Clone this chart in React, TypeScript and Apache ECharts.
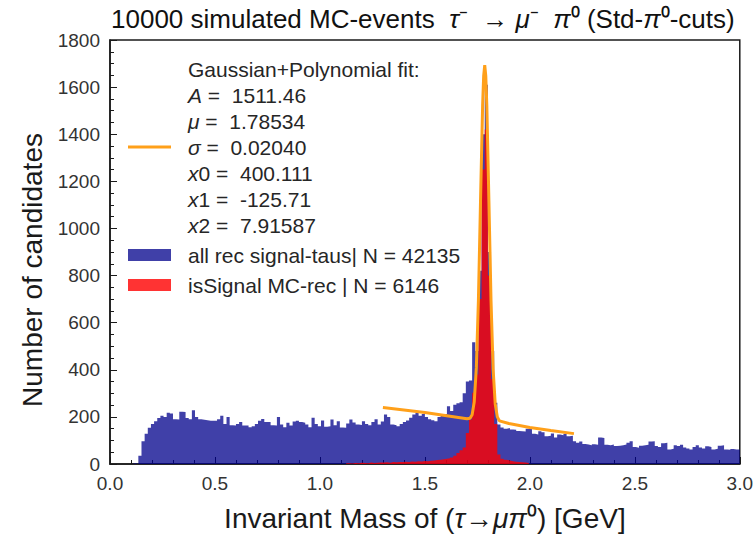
import React, { useEffect, useRef } from "react";
import * as echarts from "echarts";

// ---------- data ----------
const BIN_WIDTH = 0.015; // histogram bin width in GeV (200 bins on 0..3)

// all rec signal-taus, 200 bins starting at 0.0
const BLUE_COUNTS = [
  0, 0, 0, 0, 0, 0, 0, 3, 0, 35,
  97, 128, 154, 170, 182, 195, 205, 200, 218, 214,
  190, 189, 222, 221, 195, 190, 228, 200, 190, 188,
  186, 184, 184, 184, 190, 205, 170, 199, 165, 163,
  170, 178, 163, 163, 156, 160, 170, 184, 191, 178,
  178, 165, 163, 199, 168, 156, 175, 163, 180, 184,
  178, 175, 168, 156, 196, 170, 160, 185, 158, 160,
  189, 165, 182, 155, 154, 172, 189, 176, 168, 166,
  182, 170, 165, 178, 190, 168, 180, 210, 200, 168,
  165, 160, 170, 178, 185, 196, 210, 217, 205, 212,
  200, 190, 186, 182, 200, 206, 212, 245, 225, 252,
  258, 262, 300, 350, 355, 517, 480, 820, 1400, 1610,
  900, 480, 260, 168, 155, 150, 153, 146, 145, 140,
  139, 138, 150, 153, 128, 125, 139, 135, 118, 120,
  130, 113, 125, 122, 128, 118, 120, 97, 90, 95,
  85, 83, 80, 84, 82, 113, 110, 82, 80, 83,
  76, 78, 80, 83, 90, 97, 72, 69, 78, 80,
  82, 95, 97, 76, 72, 88, 90, 62, 65, 80,
  76, 82, 70, 66, 62, 72, 80, 70, 66, 75,
  72, 62, 65, 78, 80, 62, 60, 64, 62, 62,
];

// isSignal MC-rec, bins starting at bin index RED_FIRST_BIN (x = 1.125)
const RED_FIRST_BIN = 75;
const RED_COUNTS = [
  3, 2, 4, 3, 5, 4, 3, 6, 4, 5, 6,
  6, 7, 5, 8, 7, 9, 8, 10, 9, 11, 10, 12, 11, 13,
  12, 14, 15, 17, 18, 20, 22, 24, 28, 35, 47, 58, 70, 132, 189,
  303, 380, 700, 1250, 1420, 800, 360, 170, 40,
  22, 18, 15, 12, 10, 8, 7, 6, 4,
];

// Gaussian + polynomial fit curve
const FIT_X = [1.3, 1.5, 1.7, 1.715, 1.725, 1.735, 1.745, 1.755, 1.765, 1.775, 1.78, 1.785, 1.79, 1.795, 1.805, 1.815, 1.825, 1.835, 1.845, 1.855, 1.9, 2.0, 2.1, 2.21];
const FIT_Y = [240, 219, 192, 194, 209, 263, 408, 697, 1118, 1523, 1648, 1693, 1648, 1521, 1114, 692, 402, 255, 200, 183, 172, 155, 142, 129];

const FIT_PARAMS = [
  { sym: "A", sub: "", val: "1511.46" },
  { sym: "μ", sub: "", val: "1.78534" },
  { sym: "σ", sub: "", val: "0.02040" },
  { sym: "x", sub: "0", val: "400.111" },
  { sym: "x", sub: "1", val: "-125.71" },
  { sym: "x", sub: "2", val: "7.91587" },
];

const X_MIN = 0;
const X_MAX = 3.0;
const X_INTERVAL = 0.5;
const Y_MIN = 0;
const Y_MAX = 1800;
const Y_INTERVAL = 200;

const FIT_NAME = "Gaussian+Polynomial fit:";
const BLUE_NAME = "all rec signal-taus| N = 42135";
const RED_NAME = "isSignal MC-rec | N = 6146";

const TITLE = "10000 simulated MC-events  {i|τ}⁻  → {i|μ}⁻  {i|π}⁰ (Std-{i|π}⁰-cuts)";
const X_NAME = "Invariant Mass of ({i|τ}→{i|μπ}⁰) [GeV]";
const Y_NAME = "Number of candidates";

// ---------- styles ----------
const FONT = "'Liberation Sans', Arial, Helvetica, sans-serif";
const BLUE = "rgba(0,0,139,0.75)";
const RED = "rgba(255,0,0,0.8)";
const ORANGE = "#FFA01A";
const AXIS = "#1a1a1a";

function histData(counts: number[], firstBin: number): number[][] {
  const pts = counts.map((c, k) => [Number(((firstBin + k) * BIN_WIDTH).toFixed(4)), c]);
  const end = Number(((firstBin + counts.length) * BIN_WIDTH).toFixed(4));
  pts.push([end, counts[counts.length - 1]]);
  return pts;
}

export default function App() {
  const ref = useRef<HTMLDivElement>(null);

  useEffect(() => {
    if (!ref.current) return;
    const chart = echarts.init(ref.current, undefined, { renderer: "svg" });

    const italic = { fontStyle: "italic" as const, fontFamily: FONT };

    const option: any = {
      animation: false,
      textStyle: { fontFamily: FONT },
      title: {
        text: TITLE,
        left: 111,
        top: 6,
        padding: 0,
        textStyle: {
          fontSize: 26,
          fontWeight: "normal",
          color: "#111",
          fontFamily: FONT,
          rich: { i: { ...italic, fontSize: 26, color: "#111" } },
        },
      },
      grid: {
        left: 110,
        right: 16,
        top: 40,
        bottom: 75,
        show: true,
        borderColor: AXIS,
        borderWidth: 1.5,
        backgroundColor: "transparent",
      },
      legend: {
        orient: "vertical",
        left: 123,
        top: 51,
        itemWidth: 43,
        itemHeight: 12,
        itemGap: 4,
        selectedMode: false,
        data: [
          { name: FIT_NAME, icon: "path://M0,0 L43,0 L43,3 L0,3 Z" },
          { name: BLUE_NAME, icon: "rect" },
          { name: RED_NAME, icon: "rect" },
        ],
        formatter: (name: string) => {
          if (name === FIT_NAME) {
            return [
              FIT_NAME,
              ...FIT_PARAMS.map((p) => `{i|${p.sym}}${p.sub} =  ${p.val}`),
            ].join("\n");
          }
          return name;
        },
        textStyle: {
          fontSize: 21,
          lineHeight: 26,
          color: "#262626",
          fontFamily: FONT,
          padding: [0, 0, 0, 12],
          rich: { i: { ...italic, fontSize: 21, lineHeight: 26, color: "#262626" } },
        },
      },
      xAxis: {
        type: "value",
        min: X_MIN,
        max: X_MAX,
        interval: X_INTERVAL,
        name: X_NAME,
        nameLocation: "middle",
        nameGap: 40,
        nameTextStyle: {
          fontSize: 28,
          color: "#1a1a1a",
          fontFamily: FONT,
          rich: { i: { ...italic, fontSize: 28, color: "#1a1a1a" } },
        },
        axisLine: { onZero: false, lineStyle: { color: AXIS, width: 1.5 } },
        axisTick: { inside: true, length: 7, lineStyle: { color: AXIS, width: 1 } },
        minorTick: { show: true, splitNumber: 5, length: 4, lineStyle: { color: AXIS, width: 1 } },
        splitLine: { show: false },
        axisLabel: {
          fontSize: 19,
          color: "#333",
          margin: 10,
          fontFamily: FONT,
          formatter: (v: number) => v.toFixed(1),
        },
      },
      yAxis: {
        type: "value",
        min: Y_MIN,
        max: Y_MAX,
        interval: Y_INTERVAL,
        name: Y_NAME,
        nameLocation: "middle",
        nameGap: 61,
        nameRotate: 90,
        nameTextStyle: {
          fontSize: 28,
          color: "#1a1a1a",
          fontFamily: FONT,
          padding: [0, 36, 0, 0],
        },
        axisLine: { show: true, lineStyle: { color: AXIS, width: 1.5 } },
        axisTick: { inside: true, length: 7, lineStyle: { color: AXIS, width: 1 } },
        minorTick: { show: true, splitNumber: 4, length: 4, lineStyle: { color: AXIS, width: 1 } },
        splitLine: { show: false },
        axisLabel: {
          fontSize: 19,
          color: "#333",
          margin: 10,
          fontFamily: FONT,
          formatter: (v: number) => String(v),
        },
      },
      series: [
        {
          name: BLUE_NAME,
          type: "line",
          step: "end",
          symbol: "none",
          silent: true,
          data: histData(BLUE_COUNTS, 0),
          lineStyle: { width: 0, color: BLUE },
          itemStyle: { color: BLUE },
          areaStyle: { color: BLUE, opacity: 1 },
          z: 2,
        },
        {
          name: RED_NAME,
          type: "line",
          step: "end",
          symbol: "none",
          silent: true,
          data: histData(RED_COUNTS, RED_FIRST_BIN),
          lineStyle: { width: 0, color: RED },
          itemStyle: { color: RED },
          areaStyle: { color: RED, opacity: 1 },
          z: 3,
        },
        {
          name: FIT_NAME,
          type: "line",
          symbol: "none",
          silent: true,
          data: FIT_X.map((x, k) => [x, FIT_Y[k]]),
          lineStyle: { width: 3, color: ORANGE },
          itemStyle: { color: ORANGE },
          z: 4,
        },
      ],
    };

    chart.setOption(option);
    return () => chart.dispose();
  }, []);

  return (
    <div
      ref={ref}
      style={{ position: "fixed", left: 0, top: 0, width: 756, height: 539, background: "#fff" }}
    />
  );
}
